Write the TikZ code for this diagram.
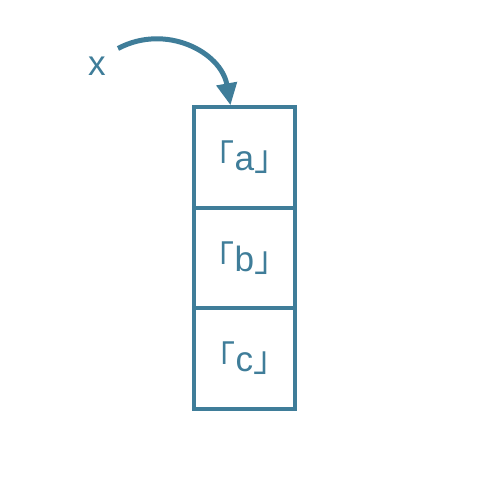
\documentclass[tikz,border=0pt]{standalone}
\usepackage{fontspec}
\setmainfont{Liberation Sans}
\newfontfamily\cjk{Noto Sans CJK SC}
\usetikzlibrary{positioning,arrows.meta}
\definecolor{boxblue}{HTML}{3F7D99}

\begin{document}
\begin{tikzpicture}[%
    >={Triangle[length=0.44cm, width=0.4cm]}, % Big filled arrow tip
    node distance=0cm,                        % Boxes touch each other
    font=\fontsize{20}{24}\selectfont,
    ]
% -------------------------------------------------
% Box and connector styles
\tikzset{
cell/.style={draw=boxblue, text=boxblue, line width=0.08cm, rectangle,
  minimum width=2.02cm, minimum height=2.01cm, outer sep=0pt},
var/.style={text=boxblue},
ptr/.style={->, draw=boxblue, line width=0.1cm},
}
\useasboundingbox (0,0) rectangle (10,10);
% -------------------------------------------------
% The stack of cells
\node [cell] (a) at (4.89,6.85) {{\cjk 「}a{\cjk 」}};
\node [cell, below=of a] (b) {{\cjk 「}b{\cjk 」}};
\node [cell, below=of b] (c) {{\cjk 「}c{\cjk 」}};

% The variable pointing to the first cell
\node [var] (x) at (1.94,8.68) {x};
\draw [ptr] ([xshift=0.12cm, yshift=0.04cm]x.north east)
  to [out=28, in=100, looseness=1.1] ([xshift=-0.28cm, yshift=0.04cm]a.north);

\end{tikzpicture}
\end{document}
